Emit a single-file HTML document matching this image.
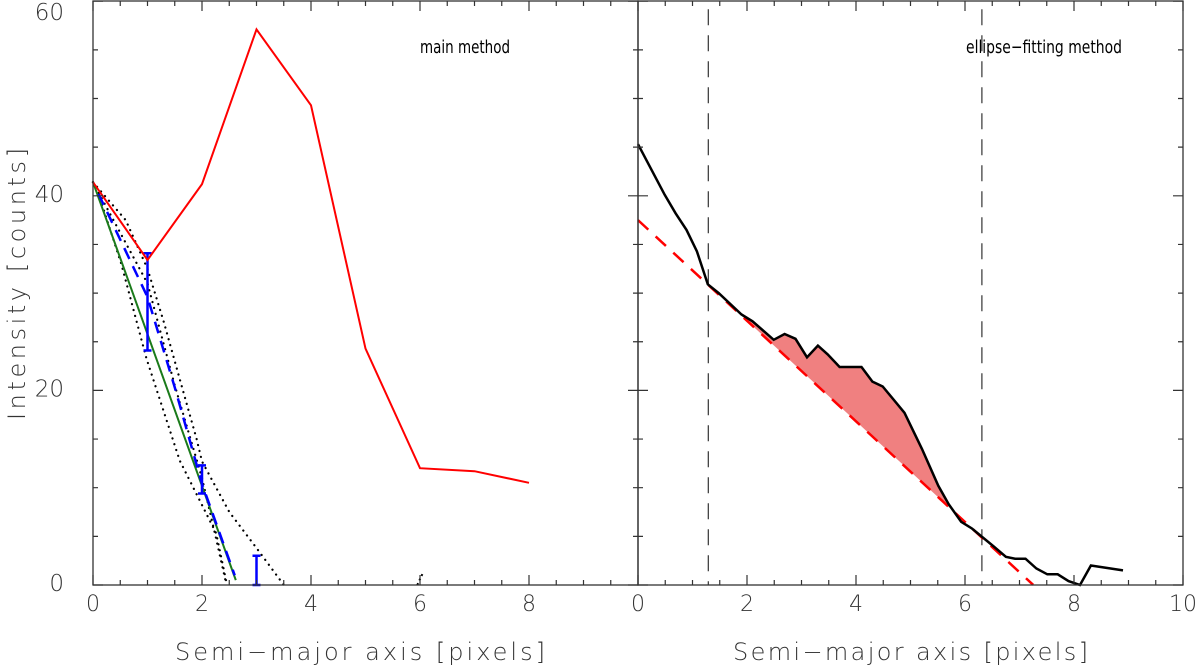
<!DOCTYPE html>
<html><head><meta charset="utf-8"><style>
html,body{margin:0;padding:0;background:#fff;}
svg{display:block;font-family:"DejaVu Sans","Liberation Sans",sans-serif;}
</style></head><body>
<svg id="chart" width="1200" height="670" viewBox="0 0 1200 670">
</svg>
<script>
// ---- data ----
const leftRedX = [0,1,2,3,4,5,6,7,8];
const leftRedY = [41.4,33.4,41.2,57.1,49.3,24.3,12,11.7,10.5];
const leftGreenX = [0,2.62];
const leftGreenY = [41.4,0.5];
const leftBlueX = [0.1,1,1.5,2,2.6];
const leftBlueY = [40.2,29.6,20.3,10.4,1.0];
const errX = [1,2,3];
const errLo = [24.1,9.4,0];
const errHi = [34.1,12.3,3.0];
const dot1X = [0,0.6,1,1.3,1.6,1.9,2,2.5,3,3.5];
const dot1Y = [41.4,37.5,32.5,27,21,15,12.7,7.5,3.8,0];
const dot2X = [0,1,1.5,2,2.25,2.45];
const dot2Y = [41.4,31,20.5,11,5,0];
const dot3X = [0,0.12,0.52,0.98,1.59,2.26,2.44];
const dot3Y = [41.4,39.9,33,23.3,12.8,5.3,0.5];
const rightX = [0,0.49,0.69,0.89,1.08,1.28,1.48,1.9,2.1,2.49,2.69,2.89,3.1,3.3,3.48,3.7,4.1,4.3,4.49,4.89,5.21,5.51,5.7,5.93,6.13,6.52,6.75,6.92,7.11,7.31,7.51,7.7,7.9,8.11,8.31,8.9];
const rightY = [45.3,40.1,38.2,36.5,34.3,30.9,30.0,27.8,27.1,25.2,25.8,25.3,23.4,24.6,23.7,22.4,22.4,20.9,20.4,17.7,14.0,10.2,8.3,6.5,5.8,4.0,2.9,2.7,2.7,1.7,1.1,1.1,0.4,0,2.0,1.5];
const fitIntercept = 37.5;
const fitSlope = -5.17;
const fitEndX = 7.25;
const vlines = [1.29, 6.31];
const shadeRange = [1.28, 5.9];
const xTicksL = [0,2,4,6,8];
const xTicksR = [0,2,4,6,8,10];
const yTicks = [0,20,40,60];

// ---- scales ----
const Y0=585, PY=9.73, PX=54.5, LX0=93, RX0=638;
const y = v => Y0 - v*PY;
const xl = v => LX0 + v*PX;
const xr = v => RX0 + v*PX;
const svg = document.getElementById('chart');
const NS='http://www.w3.org/2000/svg';
function mk(tag, attrs){
  const e=document.createElementNS(NS,tag);
  for(const k in attrs) e.setAttribute(k,attrs[k]);
  svg.appendChild(e);
  return e;
}
function pts(xs,ys,fx){return xs.map((v,i)=>fx(v).toFixed(1)+','+y(ys[i]).toFixed(1)).join(' ');}

{
  const xs=[], ys=[];
  rightX.forEach((v,i)=>{ if(v>=shadeRange[0]-0.001 && v<=shadeRange[1]) {xs.push(v); ys.push(rightY[i]);} });
  let p = pts(xs,ys,xr);
  p += ' '+xr(shadeRange[1]).toFixed(1)+','+y(fitIntercept+fitSlope*shadeRange[1]).toFixed(1);
  p += ' '+xr(shadeRange[0]).toFixed(1)+','+y(fitIntercept+fitSlope*shadeRange[0]).toFixed(1);
  const e=mk('polygon',{points:p,fill:'#f08080',stroke:'none'});
  
  
}

[[dot1X,dot1Y,'dotted-line-1'],[dot2X,dot2Y,'dotted-line-2'],[dot3X,dot3Y,'dotted-line-3']].forEach(d=>{
  const e=mk('polyline',{points:pts(d[0],d[1],xl),fill:'none',stroke:'#000','stroke-width':2.2,'stroke-dasharray':'0.1 6','stroke-linecap':'round'});
  
  
});
{
  const e=mk('polyline',{points:xl(5.95)+','+y(0)+' '+xl(6.05)+','+y(1.2),fill:'none',stroke:'#000','stroke-width':2,'stroke-dasharray':'2 3'});
  
  
}
{
  const e=mk('polyline',{points:pts(leftGreenX,leftGreenY,xl),fill:'none',stroke:'#1a7a1a','stroke-width':2});
  
  
}
{
  const e=mk('polyline',{points:pts(leftBlueX,leftBlueY,xl),fill:'none',stroke:'#0000ff','stroke-width':2.5,'stroke-dasharray':'12 8'});
  
  
}
errX.forEach((v,i)=>{
  const g=mk('path',{d:`M${xl(v)},${y(errLo[i])}V${y(errHi[i])}M${xl(v)-4},${y(errLo[i])}h8M${xl(v)-4},${y(errHi[i])}h8`,stroke:'#0000ff','stroke-width':2.5,fill:'none'});
  
  
});
{
  const e=mk('polyline',{points:pts(leftRedX,leftRedY,xl),fill:'none',stroke:'#ff0000','stroke-width':2});
  
  
}
vlines.forEach(v=>{
  const e=mk('line',{x1:xr(v),x2:xr(v),y1:y(60)+8,y2:y(0),stroke:'#333','stroke-width':1.2,'stroke-dasharray':'16 10'});
  
  
});
{
  const e=mk('line',{x1:xr(0),y1:y(fitIntercept),x2:xr(fitEndX),y2:y(fitIntercept+fitSlope*fitEndX),stroke:'#ff0000','stroke-width':2.5,'stroke-dasharray':'14 10'});
  
  
}
{
  const e=mk('polyline',{points:pts(rightX,rightY,xr),fill:'none',stroke:'#000','stroke-width':2.5});
  
  
}

const AX='#333';
[[LX0,RX0,'left-panel-frame'],[RX0,1183,'right-panel-frame']].forEach(f=>{
  const e=mk('rect',{x:f[0],y:1,width:f[1]-f[0],height:Y0-1,fill:'none',stroke:AX,'stroke-width':1.3});
  
  
});
let d='';
for(let v=0;v<=10;v+=0.5){
  const L=(v%2===0)?10:5;
  if(v<10){ d+=`M${xl(v)},${Y0}v${-L}M${xl(v)},1v${L}`; }
  d+=`M${xr(v)},${Y0}v${-L}M${xr(v)},1v${L}`;
}
for(let v=0;v<=60;v+=5){
  const L=(v%20===0)?10:5;
  d+=`M${LX0},${y(v)}h${L}M${RX0},${y(v)}h${-L}M${RX0},${y(v)}h${L}M1183,${y(v)}h${-L}`;
}
{
  const e=mk('path',{d:d,stroke:AX,'stroke-width':1.2,fill:'none'});
  
  
}
function txt(s,x0,y0,size,name,anchor,extra){
  const e=mk('text',Object.assign({x:x0,y:y0,'font-size':size,fill:'#333','text-anchor':anchor||'middle','font-weight':'200'},extra||{}));
  e.textContent=s;
  
  
  return e;
}
xTicksL.forEach(v=>txt(String(v),xl(v),611,22,'x-tick-label'));
xTicksR.forEach(v=>txt(String(v),xr(v),611,22,'x-tick-label'));
yTicks.forEach(v=>txt(String(v),64,Math.max(y(v)+6,20),23,'y-tick-label','end'));
txt('Semi\u2212major axis [pixels]',175,660,24,'x-axis-title','start',{textLength:370,lengthAdjust:'spacing'});
txt('Semi\u2212major axis [pixels]',733,660,24,'x-axis-title','start',{textLength:355,lengthAdjust:'spacing'});
txt('Intensity [counts]',0,0,24,'y-axis-title','start',{transform:'translate(25,420) rotate(-90)',textLength:272,lengthAdjust:'spacing'});
txt('main method',420,53,18,'panel-label-main','start',{fill:'#000','font-weight':'normal',textLength:90,lengthAdjust:'spacingAndGlyphs'});
txt('ellipse\u2212fitting method',966,53,18,'panel-label-ellipse','start',{fill:'#000','font-weight':'normal',textLength:156,lengthAdjust:'spacingAndGlyphs'});
</script>
</body></html>
